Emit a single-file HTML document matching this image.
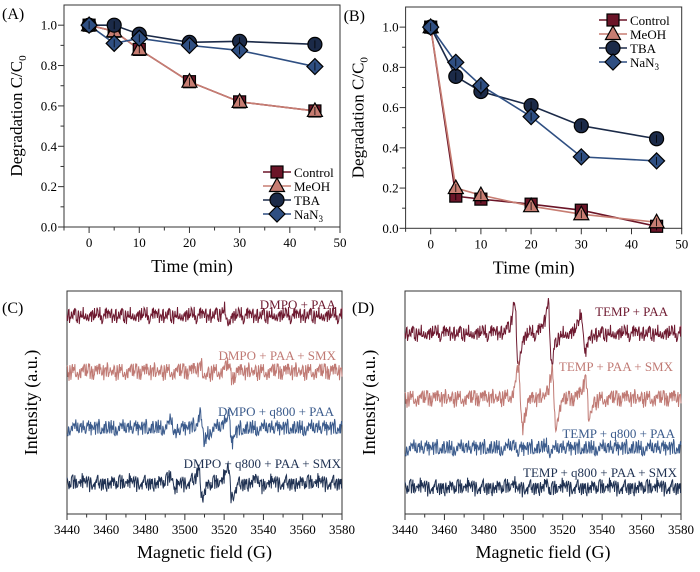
<!DOCTYPE html>
<html><head><meta charset="utf-8"><style>
html,body{margin:0;padding:0;background:#fff;}
svg, svg text, svg tspan{font-family:'Liberation Serif','Times New Roman',Times,serif !important;}
</style></head><body>
<svg id="fig" width="700" height="567" viewBox="0 0 700 567" xmlns="http://www.w3.org/2000/svg"></svg>
<script>
// ---- Panel A/B data ----
const times = [0, 5, 10, 20, 30, 45];
const seriesNames = ["Control", "MeOH", "TBA", "NaN3"];
const aControl = [1.0, 0.97, 0.88, 0.72, 0.62, 0.575];
const aMeOH = [1.0, 0.97, 0.88, 0.72, 0.62, 0.575];
const aTBA = [1.0, 1.0, 0.955, 0.915, 0.92, 0.905];
const aNaN3 = [1.0, 0.91, 0.935, 0.90, 0.875, 0.795];
const bControl = [1.0, 0.16, 0.145, 0.12, 0.09, 0.01];
const bMeOH = [1.0, 0.20, 0.165, 0.11, 0.07, 0.03];
const bTBA = [1.0, 0.755, 0.68, 0.61, 0.51, 0.445];
const bNaN3 = [1.0, 0.825, 0.71, 0.555, 0.355, 0.335];
const timeTicks = [0, 10, 20, 30, 40, 50];
const degTicks = [0.0, 0.2, 0.4, 0.6, 0.8, 1.0];
// ---- Panel C/D data ----
const fieldTicks = [3440, 3460, 3480, 3500, 3520, 3540, 3560, 3580];
const cLabels = ["DMPO + PAA", "DMPO + PAA + SMX", "DMPO + q800 + PAA", "DMPO + q800 + PAA + SMX"];
const cBaselines = [89, 64, 38.6, 14];
const cPeakFields = [[3521], [3509, 3523], [3494, 3509, 3523], [3494, 3508, 3523, 3538]];
const cPeakAmps = [[5], [5, 6], [6, 13, 13], [7, 13, 13, 5]];
const dLabels = ["TEMP + PAA", "TEMP + PAA + SMX", "TEMP + q800 + PAA", "TEMP + q800 + PAA +  SMX"];
const dBaselines = [81, 52, 29.6, 12];
const dPeakFields = [[3496.5, 3513.5, 3530.5], [3498.5, 3515.5, 3532.5], [3496, 3513], [3496, 3513]];
const dPeakAmps = [[28, 28, 19], [28, 25, 18], [3, 3], [3, 3]];
const noise = [0.3,-0.8,0.5,-0.2,0.9,-0.6,0.1,-0.9,0.7,-0.3,0.4,-0.7,0.8,-0.1,0.2,-0.5,0.6,-0.9,0.3,0.0,-0.4,0.9,-0.2,0.5,-0.8,0.1,0.7,-0.6,0.4,-0.3,0.8,-0.7,0.2,-0.1,0.6,-0.9,0.5,-0.4,0.3,0.9,-0.5,0.1,-0.8,0.7,-0.2,0.4,-0.6,0.0,0.8,-0.3,0.6,-0.9,0.2,-0.7,0.5,0.1,-0.4,0.9,-0.1,0.3,-0.8,0.7,-0.5,0.2,-0.6,0.4,0.8,-0.2,-0.9,0.6,-0.3,0.1,0.5,-0.7,0.3,-0.1,0.9,-0.4,0.2,-0.8,0.7,-0.5,0.0,0.4,-0.6,0.8,-0.3,0.1,-0.9,0.6,-0.2,0.5,-0.7,0.3,0.9,-0.4];

const NS = "http://www.w3.org/2000/svg";
const FONT = "'Liberation Serif', 'Times New Roman', Times, serif";
const svg = document.getElementById("fig");
function mk(tag, attrs, parent, text) {
  const e = document.createElementNS(NS, tag);
  if (tag === "text") e.setAttribute("style", "font-family:" + FONT);
  for (const k in attrs) e.setAttribute(k, attrs[k]);
  if (text !== undefined) e.textContent = text;
  (parent || svg).appendChild(e);
  return e;
}
const colors = ["#6b1528", "#c77d72", "#1b2a48", "#2f4f82"];
const eprColors = ["#6e1a30", "#c07a74", "#3b5b8c", "#1f3152"];

function marker(g, kind, cx, cy, color) {
  let m;
  if (kind === 0) m = mk("rect", {x: cx-6, y: cy-6, width: 12, height: 12, fill: color, stroke: "#000", "stroke-width": 1.2}, g);
  else if (kind === 1) m = mk("polygon", {points: `${cx},${cy-8} ${cx+7.5},${cy+5.5} ${cx-7.5},${cy+5.5}`, fill: color, stroke: "#000", "stroke-width": 1.2}, g);
  else if (kind === 2) m = mk("circle", {cx: cx, cy: cy, r: 7, fill: color, stroke: "#000", "stroke-width": 1.2}, g);
  else m = mk("polygon", {points: `${cx},${cy-8} ${cx+8},${cy} ${cx},${cy+8} ${cx-8},${cy}`, fill: color, stroke: "#000", "stroke-width": 1.2}, g);
  return m;
}

function degPanel(id, label, L, R, T, B, data, legend) {
  const g = mk("g", {}, svg);
  
  
  const xs = v => L + (v + 5) / 55 * (R - L);
  const ys = v => B - v / 1.1 * (B - T);
  mk("rect", {x: L, y: T, width: R-L, height: B-T, fill: "none", stroke: "#333", "stroke-width": 1}, g);
  for (let v = -5; v <= 50; v += 5) {
    const big = v % 10 === 0;
    mk("line", {x1: xs(v), x2: xs(v), y1: B, y2: B + (big ? 6 : 3.5), stroke: "#333"}, g);
  }
  timeTicks.forEach(v => {
    const t = mk("text", {x: xs(v), y: B + 20, "text-anchor": "middle", "font-size": 13}, g, String(v));
    
    
  });
  for (let v = 0; v <= 1.05; v += 0.1) {
    const big = Math.round(v * 10) % 2 === 0;
    mk("line", {x1: L, x2: L - (big ? 6 : 3.5), y1: ys(v), y2: ys(v), stroke: "#333"}, g);
  }
  degTicks.forEach(v => {
    const t = mk("text", {x: L - 7, y: ys(v) + 4.5, "text-anchor": "end", "font-size": 13}, g, v.toFixed(1));
    
    
  });
  const xt = mk("text", {x: (L + R) / 2 - 10, y: B + 45, "text-anchor": "middle", "font-size": 18}, g, "Time (min)");
  
  
  const cy = (T + B) / 2;
  const yt = mk("text", {x: 0, y: 0, "text-anchor": "middle", "font-size": 17, transform: `translate(${L - 42},${cy}) rotate(-90)`}, g);
  mk("tspan", {}, yt, "Degradation C/C");
  mk("tspan", {"font-size": 11, dy: 4}, yt, "0");
  
  
  const pl = mk("text", {x: L - 62, y: T + 14, "font-size": 16}, g, label);
  
  
  data.forEach((vals, si) => {
    const pts = vals.map((v, i) => `${xs(times[i])},${ys(v)}`).join(" ");
    const line = mk("polyline", {points: pts, fill: "none", stroke: colors[si], "stroke-width": 1.6}, g);
    
    
  });
  data.forEach((vals, si) => {
    vals.forEach((v, i) => {
      const m = marker(g, si, xs(times[i]), ys(v), colors[si]);
      
      
      mk("line", {x1: xs(times[i]), x2: xs(times[i]), y1: ys(v) - 4, y2: ys(v) + 4, stroke: "#000", "stroke-width": 0.8}, g);
    });
  });
  seriesNames.forEach((n, si) => {
    const ly = legend.y0 + si * 14;
    const le = mk("g", {}, g);
    
    
    mk("line", {x1: legend.x - 14, x2: legend.x + 14, y1: ly, y2: ly, stroke: colors[si], "stroke-width": 1.6}, le);
    marker(le, si, legend.x, ly, colors[si]);
    const t = mk("text", {x: legend.x + 17, y: ly + 5, "font-size": 13}, le);
    if (n === "NaN3") { mk("tspan", {}, t, "NaN"); mk("tspan", {"font-size": 9, dy: 3}, t, "3"); }
    else t.textContent = n;
  });
}

function eprPanel(id, label, L, R, T, B, labels, baselines, peaks, amps, labelPos, labelX) {
  const g = mk("g", {}, svg);
  
  
  const xs = v => L + (v - 3440) / 140 * (R - L);
  const ys = v => B - v / 100 * (B - T);
  mk("rect", {x: L, y: T, width: R-L, height: B-T, fill: "none", stroke: "#333", "stroke-width": 1}, g);
  for (let v = 3440; v <= 3580; v += 10) {
    const big = v % 20 === 0;
    mk("line", {x1: xs(v), x2: xs(v), y1: B, y2: B + (big ? 6 : 3.5), stroke: "#333"}, g);
  }
  fieldTicks.forEach(v => {
    const t = mk("text", {x: xs(v), y: B + 20, "text-anchor": "middle", "font-size": 13}, g, String(v));
    
    
  });
  const xt = mk("text", {x: (L + R) / 2, y: B + 44, "text-anchor": "middle", "font-size": 18}, g, "Magnetic field (G)");
  
  
  const yt = mk("text", {x: 0, y: 0, "text-anchor": "middle", "font-size": 18, transform: `translate(${L - 30},${(T + B) / 2}) rotate(-90)`}, g, "Intensity (a.u.)");
  
  
  const pl = mk("text", {x: labelX, y: T + 22, "font-size": 16}, g, label);
  
  
  const w = 1.7;
  baselines.forEach((b, ti) => {
    let pts = [];
    for (let i = 0; i <= 560; i++) {
      const f = 3440 + i * 0.25;
      let v = b + 3.2 * noise[(i * 7 + ti * 23) % noise.length] + 1.6 * noise[(i * 13 + ti * 11 + 5) % noise.length];
      peaks[ti].forEach((c, k) => {
        const u = (f - c) / w;
        v += amps[ti][k] / 0.65 * (-u) / Math.pow(1 + u * u, 2);
      });
      pts.push(`${xs(f).toFixed(1)},${ys(v).toFixed(1)}`);
    }
    const tr = mk("polyline", {points: pts.join(" "), fill: "none", stroke: eprColors[ti], "stroke-width": 1}, g);
    
    
    const lt = mk("text", {x: labelPos[ti][0], y: labelPos[ti][1], "text-anchor": "end", "font-size": 13, fill: eprColors[ti]}, g, labels[ti]);
    
    
  });
}

degPanel("a", "(A)", 64, 340, 5, 227, [aControl, aMeOH, aTBA, aNaN3], {x: 277, y0: 172});
degPanel("b", "(B)", 405.6, 681.7, 7, 228.3, [bControl, bMeOH, bTBA, bNaN3], {x: 613, y0: 20});
eprPanel("c", "(C)", 67, 342, 291, 514, cLabels, cBaselines, cPeakFields, cPeakAmps, [[336, 309], [336, 360], [334, 416], [341, 468]], 2);
eprPanel("d", "(D)", 405, 681, 291, 514, dLabels, dBaselines, dPeakFields, dPeakAmps, [[668, 316], [673, 371], [675, 438], [677, 477]], 352);
</script>
</body></html>
